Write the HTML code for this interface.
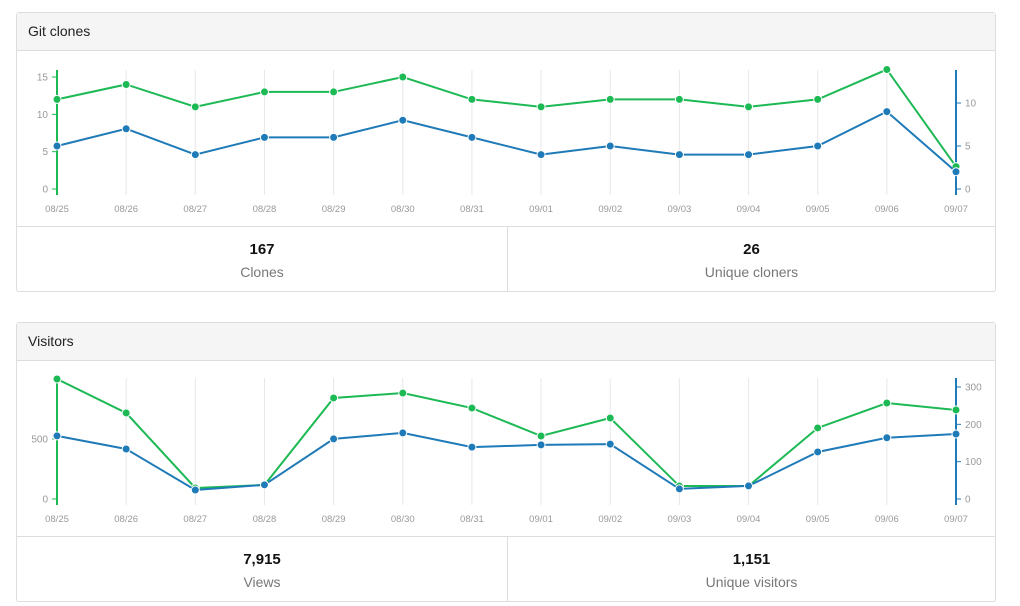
<!DOCTYPE html>
<html><head><meta charset="utf-8"><style>
body{margin:0;width:1020px;height:606px;background:#fff;font-family:"Liberation Sans",sans-serif;position:relative;overflow:hidden}
.panel{position:absolute;left:16px;width:978px;height:278px;border:1px solid #ddd;border-radius:3px;background:#fff}
.hdr{height:37px;background:#f5f5f5;border-bottom:1px solid #ddd;font-size:14px;color:#222;line-height:37px;padding-left:11px}
.stats{position:absolute;left:0;top:213px;width:978px;height:65px;border-top:1px solid #ddd}
.stat{position:absolute;top:0;height:65px;text-align:center}
.num{font-weight:bold;font-size:15px;color:#111;margin-top:14px}
.lbl{font-size:14px;color:#777;margin-top:6px}
svg{position:absolute;left:0;top:0}
</style></head><body>
<div class="panel" style="top:12px">
<div class="hdr">Git clones</div>
<div class="stats">
<div class="stat" style="left:0;width:490px;border-right:1px solid #ddd"><div class="num">167</div><div class="lbl">Clones</div></div>
<div class="stat" style="left:491px;width:487px"><div class="num">26</div><div class="lbl">Unique cloners</div></div>
</div></div>
<div class="panel" style="top:322px">
<div class="hdr">Visitors</div>
<div class="stats">
<div class="stat" style="left:0;width:490px;border-right:1px solid #ddd"><div class="num">7,915</div><div class="lbl">Views</div></div>
<div class="stat" style="left:491px;width:487px"><div class="num">1,151</div><div class="lbl">Unique visitors</div></div>
</div></div>
<svg id="chart" width="1020" height="606"></svg>
<script>
const dates=["08/25","08/26","08/27","08/28","08/29","08/30","08/31","09/01","09/02","09/03","09/04","09/05","09/06","09/07"];
const clones=[12,14,11,13,13,15,12,11,12,12,11,12,16,3];
const cloners=[5,7,4,6,6,8,6,4,5,4,4,5,9,2];
const clonesTicks=[0,5,10,15];
const clonersTicks=[0,5,10];
const views=[1000,717,92,117,842,883,758,525,675,108,108,592,800,742];
const visitors=[169,134,24,38,161,177,139,145,147,27,35,126,164,174];
const viewsTicks=[0,500];
const visitorsTicks=[0,100,200,300];
const G="#1db954",B="#1f7ab8";
const svg=document.getElementById('chart');
function el(t,a){const e=document.createElementNS('http://www.w3.org/2000/svg',t);for(const k in a)e.setAttribute(k,a[k]);svg.appendChild(e);return e;}
const x=i=>57+i*(956-57)/(dates.length-1);
function chart(c){
  const yl=v=>c.base-v*c.lk, yr=v=>c.base-v*c.rk;
  dates.forEach((d,i)=>{
    if(i>0&&i<dates.length-1){const g=el('line',{x1:x(i),x2:x(i),y1:c.top,y2:c.bot,stroke:'#e8e8e8','stroke-width':1});
    }
    const t=el('text',{x:x(i),y:c.lab,'text-anchor':'middle','font-size':9.5,fill:'#999','font-family':'Liberation Sans'});t.textContent=d;
    
  });
  const la=el('line',{x1:57,x2:57,y1:c.top,y2:c.bot,stroke:G,'stroke-width':2});
  
  const ra=el('line',{x1:956,x2:956,y1:c.top,y2:c.bot,stroke:B,'stroke-width':2});
  
  c.lt.forEach(v=>{el('line',{x1:52,x2:57,y1:yl(v),y2:yl(v),stroke:G,'stroke-width':1});
    const t=el('text',{x:48,y:yl(v)+3.5,'text-anchor':'end','font-size':10,fill:'#999'});t.textContent=v;
    });
  c.rt.forEach(v=>{el('line',{x1:956,x2:961,y1:yr(v),y2:yr(v),stroke:B,'stroke-width':1});
    const t=el('text',{x:965,y:yr(v)+3.5,'font-size':10,fill:'#999'});t.textContent=v;
    });
  [[c.ld,yl,G,c.ln],[c.rd,yr,B,c.rn]].forEach(([d,y,col,n])=>{
    const p=el('polyline',{points:d.map((v,i)=>x(i)+','+y(v)).join(' '),fill:'none',stroke:col,'stroke-width':2});
    
    d.forEach((v,i)=>{const ci=el('circle',{cx:x(i),cy:y(v),r:4,fill:col,stroke:'#fff','stroke-width':1});
      });
  });
}
chart({base:189,lk:112/15,rk:8.6,top:70,bot:195,lab:212,lt:clonesTicks,rt:clonersTicks,ld:clones,rd:cloners,ln:'clones',rn:'cloners'});
chart({base:499,lk:0.12,rk:112/300,top:378,bot:505,lab:522,lt:viewsTicks,rt:visitorsTicks,ld:views,rd:visitors,ln:'views',rn:'visitors'});
</script>
</body></html>
